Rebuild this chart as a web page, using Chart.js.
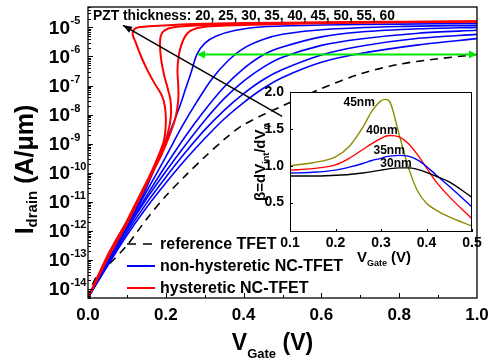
<!DOCTYPE html>
<html>
<head>
<meta charset="utf-8">
<script src="https://cdn.jsdelivr.net/npm/chart.js@4/dist/chart.umd.min.js"></script>
<style>
  body { margin: 0; background: #fff; }
  #wrap { position: relative; width: 499px; height: 362px; }
  #main { position: absolute; left: 0; top: 0; }
  #inset { position: absolute; left: 245px; top: 85px; }
</style>
</head>
<body>
<div id="wrap">
  <canvas id="main" width="499" height="362"></canvas>
  <canvas id="inset" width="240" height="185"></canvas>
</div>
<script>
// ---- main plot data: gate voltage (V) vs drain current (A/um) ----
const refV = [0, 0.02, 0.05, 0.1, 0.15, 0.2, 0.25, 0.3, 0.35, 0.4, 0.5, 0.6, 0.7, 0.8, 0.9, 1.0];
const refI = [5.0e-15, 2.5e-14, 6.3e-14, 3.2e-13, 2.5e-12, 1.6e-11, 7.9e-11, 3.5e-10, 1.4e-9, 4.5e-9, 2.0e-8, 7.9e-8, 2.5e-7, 5.4e-7, 8.3e-7, 1.17e-6];

// hysteretic (red) curves, thick PZT
const red60V = [0, 0.05, 0.1, 0.13, 0.16, 0.18, 0.195, 0.2, 0.198, 0.19, 0.17, 0.15, 0.135, 0.122, 0.115, 0.118, 0.13, 0.17, 0.3, 0.5, 0.75, 1.0];
const red60I = [5.0e-15, 1.41e-13, 2.24e-12, 1.41e-11, 8.9e-11, 3.55e-10, 1.26e-9, 5.0e-9, 1.78e-8, 4.47e-8, 1.26e-7, 3.98e-7, 1.12e-6, 3.16e-6, 5.62e-6, 8.3e-6, 1.0e-5, 1.12e-5, 1.32e-5, 1.45e-5, 1.55e-5, 1.58e-5];
const red55V = [0, 0.05, 0.1, 0.13, 0.16, 0.185, 0.205, 0.213, 0.212, 0.205, 0.195, 0.188, 0.185, 0.187, 0.195, 0.22, 0.3, 0.5, 0.75, 1.0];
const red55I = [5.0e-15, 1.26e-13, 2.0e-12, 1.26e-11, 7.9e-11, 3.98e-10, 2.24e-9, 8.9e-9, 3.16e-8, 7.9e-8, 2.5e-7, 7.9e-7, 2.5e-6, 5.0e-6, 7.6e-6, 1.0e-5, 1.2e-5, 1.38e-5, 1.51e-5, 1.58e-5];
const red50V = [0, 0.05, 0.1, 0.13, 0.16, 0.19, 0.21, 0.225, 0.232, 0.232, 0.23, 0.233, 0.24, 0.25, 0.265, 0.3, 0.4, 0.6, 0.8, 1.0];
const red50I = [5.0e-15, 1.12e-13, 1.78e-12, 1.12e-11, 7.1e-11, 4.47e-10, 2.0e-9, 7.9e-9, 3.16e-8, 1.0e-7, 3.16e-7, 1.0e-6, 2.5e-6, 5.0e-6, 7.9e-6, 1.05e-5, 1.2e-5, 1.38e-5, 1.51e-5, 1.58e-5];

// non-hysteretic (blue) curves
const blue45V = [0, 0.05, 0.1, 0.14, 0.165, 0.19, 0.215, 0.235, 0.25, 0.265, 0.28, 0.3, 0.33, 0.38, 0.45, 0.6, 0.8, 1.0];
const blue45I = [5.0e-15, 1.12e-13, 1.58e-12, 1.58e-11, 8.9e-11, 5.6e-10, 3.55e-9, 1.78e-8, 7.1e-8, 2.8e-7, 1.17e-6, 2.8e-6, 5.0e-6, 7.9e-6, 1.05e-5, 1.2e-5, 1.29e-5, 1.35e-5];
const blue40V = [0, 0.05, 0.1, 0.15, 0.2, 0.24, 0.28, 0.32, 0.36, 0.4, 0.45, 0.5, 0.6, 0.8, 1.0];
const blue40I = [5.0e-15, 1.0e-13, 1.41e-12, 2.24e-11, 3.55e-10, 3.55e-9, 2.8e-8, 1.78e-7, 7.1e-7, 1.9e-6, 3.8e-6, 5.75e-6, 8.3e-6, 1.07e-5, 1.17e-5];
const blueV = [0, 0.05, 0.1, 0.15, 0.2, 0.25, 0.3, 0.35, 0.4, 0.45, 0.5, 0.6, 0.7, 0.85, 1.0];
const blue35I = [5.0e-15, 8.9e-14, 1.26e-12, 1.58e-11, 1.78e-10, 1.78e-9, 1.41e-8, 8.9e-8, 3.8e-7, 1.12e-6, 2.1e-6, 4.7e-6, 6.9e-6, 8.9e-6, 1.0e-5];
const blue30I = [5.0e-15, 7.9e-14, 1.12e-12, 1.26e-11, 1.12e-10, 8.9e-10, 6.3e-9, 3.55e-8, 1.41e-7, 4.2e-7, 9.3e-7, 2.4e-6, 4.0e-6, 6.3e-6, 7.9e-6];
const blue25I = [5.0e-15, 7.1e-14, 8.9e-13, 8.9e-12, 7.1e-11, 5.0e-10, 3.0e-9, 1.41e-8, 5.25e-8, 1.58e-7, 3.55e-7, 1.12e-6, 2.24e-6, 4.2e-6, 5.75e-6];
const blue20I = [5.0e-15, 6.3e-14, 7.1e-13, 6.3e-12, 4.47e-11, 2.8e-10, 1.51e-9, 7.1e-9, 2.6e-8, 7.9e-8, 1.9e-7, 6.3e-7, 1.26e-6, 2.5e-6, 4.1e-6];

// arrows (data coords)
const blackArrowV = [0.499, 0.09];
const blackArrowI = [8.7e-9, 1.17e-5];
const greenArrowV = [0.28, 1.0];
const greenArrowI = [1.17e-6, 1.17e-6];

const xTickValues = [0, 0.2, 0.4, 0.6, 0.8, 1.0];
const xTickLabels = ['0.0', '0.2', '0.4', '0.6', '0.8', '1.0'];
const yTickValues = [1e-5, 1e-6, 1e-7, 1e-8, 1e-9, 1e-10, 1e-11, 1e-12, 1e-13, 1e-14];
const yTickExps = ['-5', '-6', '-7', '-8', '-9', '-10', '-11', '-12', '-13', '-14'];

const legendLabels = ['reference TFET', 'non-hysteretic NC-TFET', 'hysteretic NC-TFET'];
const thicknessNote = 'PZT thickness: 20, 25, 30, 35, 40, 45, 50, 55, 60';

// ---- inset data: beta = dVint/dVg vs gate voltage ----
const insetV = [0.1, 0.15, 0.2, 0.23, 0.26, 0.28, 0.3, 0.31, 0.32, 0.34, 0.36, 0.38, 0.4, 0.42, 0.45, 0.5];
const beta45 = [1.0, 1.04, 1.12, 1.26, 1.52, 1.74, 1.88, 1.9, 1.86, 1.42, 0.98, 0.66, 0.49, 0.4, 0.305, 0.18];
const beta40 = [0.94, 0.96, 1.01, 1.1, 1.22, 1.3, 1.37, 1.4, 1.41, 1.39, 1.3, 1.15, 0.97, 0.79, 0.58, 0.28];
const beta35 = [0.9, 0.91, 0.94, 0.98, 1.03, 1.07, 1.1, 1.12, 1.13, 1.14, 1.13, 1.08, 0.99, 0.88, 0.72, 0.44];
const beta30 = [0.86, 0.86, 0.87, 0.88, 0.9, 0.92, 0.94, 0.95, 0.96, 0.97, 0.97, 0.95, 0.91, 0.86, 0.78, 0.57];
const insetNames = ['45nm', '40nm', '35nm', '30nm'];
const insetLabelV = [0.252, 0.302, 0.318, 0.333];
const insetLabelB = [1.86, 1.48, 1.2, 1.03];
const insetXTicks = [0.1, 0.2, 0.3, 0.4, 0.5];
const insetXLabels = ['0.1', '0.2', '0.3', '0.4', '0.5'];
const insetYTicks = [0.5, 1.0, 1.5, 2.0];
const insetYLabels = ['0.5', '1.0', '1.5', '2.0'];

const FAM = '"Liberation Sans", Arial, sans-serif';
const RED = '#ff0000', BLUE = '#0000ff', GREEN = '#00e600', OLIVE = '#8c8c00';

function pts(xs, ys) { return xs.map((x, i) => ({ x: x, y: ys[i] })); }

function curve(xs, ys, color, width, dash) {
  return {
    data: pts(xs, ys), showLine: true, borderColor: color, borderWidth: width,
    borderDash: dash || [], pointRadius: 0, fill: false, tension: 0.3
  };
}

function drawRuns(ctx, runs, x, y, align) {
  let w = 0;
  runs.forEach(r => { ctx.font = r.font; w += ctx.measureText(r.text).width; });
  let cx = align === 'center' ? x - w / 2 : x;
  ctx.textAlign = 'left';
  ctx.textBaseline = 'alphabetic';
  runs.forEach(r => {
    ctx.font = r.font;
    ctx.fillText(r.text, cx, y + (r.dy || 0));
    cx += ctx.measureText(r.text).width;
  });
}

function arrowHead(ctx, x0, y0, x1, y1, len, half) {
  const a = Math.atan2(y1 - y0, x1 - x0);
  ctx.beginPath();
  ctx.moveTo(x1, y1);
  ctx.lineTo(x1 - len * Math.cos(a) + half * Math.sin(a), y1 - len * Math.sin(a) - half * Math.cos(a));
  ctx.lineTo(x1 - len * Math.cos(a) - half * Math.sin(a), y1 - len * Math.sin(a) + half * Math.cos(a));
  ctx.closePath();
  ctx.fill();
}

const mainDecor = {
  id: 'mainDecor',
  afterDraw(chart) {
    const ctx = chart.ctx, a = chart.chartArea;
    const xs = chart.scales.x, ys = chart.scales.y;
    ctx.save();
    ctx.fillStyle = '#000';
    ctx.strokeStyle = '#000';

    // arrows
    let bx0 = xs.getPixelForValue(blackArrowV[0]), by0 = ys.getPixelForValue(blackArrowI[0]);
    let bx1 = xs.getPixelForValue(blackArrowV[1]), by1 = ys.getPixelForValue(blackArrowI[1]);
    ctx.lineWidth = 1.5;
    ctx.beginPath(); ctx.moveTo(bx0, by0); ctx.lineTo(bx1, by1); ctx.stroke();
    arrowHead(ctx, bx0, by0, bx1, by1, 9, 3.5);

    let gx0 = xs.getPixelForValue(greenArrowV[0]), gy0 = ys.getPixelForValue(greenArrowI[0]);
    let gx1 = xs.getPixelForValue(greenArrowV[1]), gy1 = ys.getPixelForValue(greenArrowI[1]);
    ctx.strokeStyle = GREEN; ctx.fillStyle = GREEN; ctx.lineWidth = 2;
    ctx.beginPath(); ctx.moveTo(gx0 + 4, gy0); ctx.lineTo(gx1 - 4, gy1); ctx.stroke();
    arrowHead(ctx, gx1, gy1, gx0, gy0, 8, 4);
    arrowHead(ctx, gx0, gy0, gx1, gy1, 8, 4);

    // frame
    ctx.strokeStyle = '#000'; ctx.fillStyle = '#000';
    ctx.lineWidth = 1.3;
    ctx.strokeRect(a.left, a.top, a.right - a.left, a.bottom - a.top);

    // x ticks (inward)
    ctx.lineWidth = 1;
    for (let k = 1; k < 10; k++) {
      const px = Math.round(xs.getPixelForValue(k / 10)) + 0.5;
      const len = k % 2 === 0 ? 5 : 3;
      ctx.beginPath(); ctx.moveTo(px, a.bottom); ctx.lineTo(px, a.bottom - len); ctx.stroke();
    }
    // y ticks (log, inward)
    for (let e = -15; e <= -5; e++) {
      for (let m = 1; m < 10; m++) {
        const v = m * Math.pow(10, e);
        if (v < ys.min || v > ys.max) continue;
        const py = Math.round(ys.getPixelForValue(v)) + 0.5;
        const len = m === 1 ? 5 : 3;
        ctx.beginPath(); ctx.moveTo(a.left, py); ctx.lineTo(a.left + len, py); ctx.stroke();
      }
    }

    // y tick labels 10^n
    yTickValues.forEach((v, i) => {
      const py = ys.getPixelForValue(v);
      ctx.font = 'bold 19px ' + FAM;
      ctx.textAlign = 'right'; ctx.textBaseline = 'middle';
      ctx.fillText('10', 70, py + 1);
      ctx.font = 'bold 11px ' + FAM;
      ctx.textAlign = 'left';
      ctx.fillText(yTickExps[i], 70.5, py - 6);
    });
    // x tick labels
    ctx.font = 'bold 17px ' + FAM;
    ctx.textAlign = 'center'; ctx.textBaseline = 'middle';
    xTickValues.forEach((v, i) => ctx.fillText(xTickLabels[i], xs.getPixelForValue(v), 315));

    // axis titles
    drawRuns(ctx, [
      { text: 'V', font: 'bold 23px ' + FAM },
      { text: 'Gate', font: 'bold 13px ' + FAM, dy: 8 },
      { text: ' (V)', font: 'bold 23px ' + FAM }
    ], (a.left + a.right) / 2 - 10, 350, 'center');

    ctx.save();
    ctx.translate(33, (a.top + a.bottom) / 2 + 17);
    ctx.rotate(-Math.PI / 2);
    drawRuns(ctx, [
      { text: 'I', font: 'bold 25px ' + FAM },
      { text: 'drain', font: 'bold 15px ' + FAM, dy: 4 },
      { text: ' (A/\u03bcm)', font: 'bold 25px ' + FAM }
    ], 0, 0, 'center');
    ctx.restore();

    // thickness note
    ctx.save();
    ctx.font = 'bold 15px ' + FAM;
    const w = ctx.measureText(thicknessNote).width;
    ctx.translate(93, 20);
    ctx.scale(302 / w, 1);
    ctx.textAlign = 'left'; ctx.textBaseline = 'alphabetic';
    ctx.fillText(thicknessNote, 0, 0);
    ctx.restore();

    // legend
    const rows = [244, 266, 288];
    const styles = [['#000', [9, 7]], [BLUE, []], [RED, []]];
    rows.forEach((ry, i) => {
      ctx.strokeStyle = styles[i][0];
      ctx.setLineDash(styles[i][1]);
      ctx.lineWidth = i === 0 ? 1.6 : 2;
      ctx.beginPath(); ctx.moveTo(127, ry); ctx.lineTo(155, ry); ctx.stroke();
      ctx.setLineDash([]);
      ctx.fillStyle = '#000';
      ctx.font = 'bold 16px ' + FAM;
      ctx.textAlign = 'left'; ctx.textBaseline = 'middle';
      ctx.fillText(legendLabels[i], 160, ry + 1);
    });
    ctx.restore();
  }
};

new Chart(document.getElementById('main'), {
  type: 'scatter',
  data: {
    datasets: [
      curve(red60V, red60I, RED, 2),
      curve(red55V, red55I, RED, 2),
      curve(red50V, red50I, RED, 2),
      curve(blue45V, blue45I, BLUE, 1.6),
      curve(blue40V, blue40I, BLUE, 1.6),
      curve(blueV, blue35I, BLUE, 1.6),
      curve(blueV, blue30I, BLUE, 1.6),
      curve(blueV, blue25I, BLUE, 1.6),
      curve(blueV, blue20I, BLUE, 1.6),
      curve(refV, refI, '#000', 1.6, [8, 6])
    ]
  },
  options: {
    responsive: false,
    animation: false,
    events: [],
    layout: { padding: { top: 7, right: 22, left: 0, bottom: 0 } },
    plugins: { legend: { display: false }, tooltip: { enabled: false } },
    scales: {
      x: {
        type: 'linear', min: 0, max: 1,
        grid: { display: false }, border: { display: false }, ticks: { display: false },
        afterFit: s => { s.height = 64; }
      },
      y: {
        type: 'logarithmic', min: 5e-15, max: 5e-5,
        grid: { display: false }, border: { display: false }, ticks: { display: false },
        afterFit: s => { s.width = 88; }
      }
    }
  },
  plugins: [mainDecor]
});

// ---- inset ----
const insetDecor = {
  id: 'insetDecor',
  beforeDraw(chart) {
    const ctx = chart.ctx, a = chart.chartArea;
    ctx.save();
    ctx.fillStyle = '#fff';
    ctx.fillRect(a.left, a.top, a.right - a.left, a.bottom - a.top);
    ctx.restore();
  },
  afterDraw(chart) {
    const ctx = chart.ctx, a = chart.chartArea;
    const xs = chart.scales.x, ys = chart.scales.y;
    ctx.save();
    ctx.strokeStyle = '#000'; ctx.fillStyle = '#000';
    ctx.lineWidth = 1;
    ctx.strokeRect(a.left + 0.5, a.top + 0.5, a.right - a.left - 1, a.bottom - a.top - 1);
    insetXTicks.forEach(v => {
      const px = Math.round(xs.getPixelForValue(v)) + 0.5;
      ctx.beginPath(); ctx.moveTo(px, a.bottom); ctx.lineTo(px, a.bottom - 3); ctx.stroke();
    });
    insetYTicks.forEach(v => {
      const py = Math.round(ys.getPixelForValue(v)) + 0.5;
      ctx.beginPath(); ctx.moveTo(a.left, py); ctx.lineTo(a.left + 3, py); ctx.stroke();
    });
    ctx.font = 'bold 14px ' + FAM;
    ctx.textAlign = 'right'; ctx.textBaseline = 'middle';
    insetYTicks.forEach((v, i) => ctx.fillText(insetYLabels[i], a.left - 6, ys.getPixelForValue(v)));
    ctx.textAlign = 'center';
    insetXTicks.forEach((v, i) => ctx.fillText(insetXLabels[i], xs.getPixelForValue(v), a.bottom + 11));

    drawRuns(ctx, [
      { text: 'V', font: 'bold 15px ' + FAM },
      { text: 'Gate', font: 'bold 9px ' + FAM, dy: 4 },
      { text: ' (V)', font: 'bold 15px ' + FAM }
    ], (a.left + a.right) / 2 + 3, a.bottom + 30, 'center');

    ctx.save();
    ctx.translate(20, (a.top + a.bottom) / 2);
    ctx.rotate(-Math.PI / 2);
    drawRuns(ctx, [
      { text: '\u03b2=dV', font: 'bold 15px ' + FAM },
      { text: 'int', font: 'bold 9px ' + FAM, dy: 4 },
      { text: '/dV', font: 'bold 15px ' + FAM },
      { text: '\u03c6', font: 'bold 9px ' + FAM, dy: 4 }
    ], 0, 0, 'center');
    ctx.restore();

    ctx.font = 'bold 12px ' + FAM;
    ctx.textAlign = 'center'; ctx.textBaseline = 'middle';
    insetNames.forEach((n, i) => {
      ctx.fillText(n, xs.getPixelForValue(insetLabelV[i]), ys.getPixelForValue(insetLabelB[i]));
    });
    ctx.restore();
  }
};

function smooth(xs, ys, color) {
  return {
    data: pts(xs, ys), showLine: true, borderColor: color, borderWidth: 1.4,
    pointRadius: 0, fill: false, cubicInterpolationMode: 'monotone'
  };
}

new Chart(document.getElementById('inset'), {
  type: 'scatter',
  data: {
    datasets: [
      smooth(insetV, beta30, '#000'),
      smooth(insetV, beta35, BLUE),
      smooth(insetV, beta40, RED),
      smooth(insetV, beta45, OLIVE)
    ]
  },
  options: {
    responsive: false,
    animation: false,
    events: [],
    layout: { padding: { top: 7, right: 13, left: 0, bottom: 0 } },
    plugins: { legend: { display: false }, tooltip: { enabled: false } },
    scales: {
      x: {
        type: 'linear', min: 0.1, max: 0.5,
        grid: { display: false }, border: { display: false }, ticks: { display: false },
        afterFit: s => { s.height = 38; }
      },
      y: {
        type: 'linear', min: 0.1, max: 2.0,
        grid: { display: false }, border: { display: false }, ticks: { display: false },
        afterFit: s => { s.width = 45; }
      }
    }
  },
  plugins: [insetDecor]
});
</script>
</body>
</html>
